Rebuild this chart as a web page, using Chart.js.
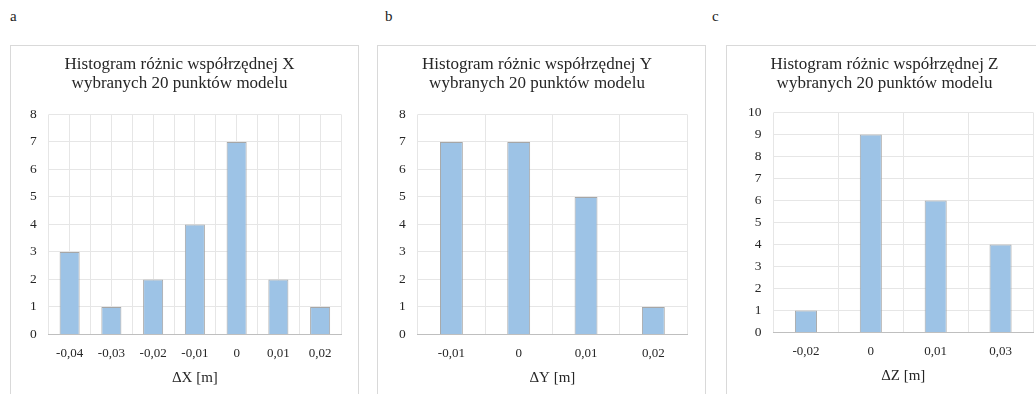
<!DOCTYPE html>
<html>
<head>
<meta charset="utf-8">
<script src="https://cdn.jsdelivr.net/npm/chart.js@4/dist/chart.umd.min.js"></script>
<style>
  body { margin: 0; background: #fff; width: 1036px; height: 394px; overflow: hidden; position: relative; font-family: "Liberation Serif", serif; }
  .lbl { position: absolute; top: 8px; font-size: 15px; color: #222; }
  .box { position: absolute; top: 45px; height: 350px; border: 1px solid #d9d9d9; box-sizing: border-box; }
  .box canvas { position: absolute; left: 0; top: 0; }
</style>
</head>
<body>
<div class="lbl" style="left:10px">a</div>
<div class="lbl" style="left:385px">b</div>
<div class="lbl" style="left:712px">c</div>
<div class="box" style="left:10px;width:349px"><canvas id="chartX" width="347" height="348"></canvas></div>
<div class="box" style="left:377px;width:329px"><canvas id="chartY" width="327" height="348"></canvas></div>
<div class="box" style="left:726px;width:330px"><canvas id="chartZ" width="328" height="348"></canvas></div>
<script>
// dane histogramów
var labelsX = ["-0,04", "-0,03", "-0,02", "-0,01", "0", "0,01", "0,02"];
var countsX = [3, 1, 2, 4, 7, 2, 1];
var labelsY = ["-0,01", "0", "0,01", "0,02"];
var countsY = [7, 7, 5, 1];
var labelsZ = ["-0,02", "0", "0,01", "0,03"];
var countsZ = [1, 9, 6, 4];
var maxX = 8, maxY = 8, maxZ = 10;

var serif = "'Liberation Serif', 'Times New Roman', serif";
var gridColor = "#e6e6e6";
var textColor = "#262626";

function makeChart(id, labels, counts, yMax, titleText, axisText, barPct, halfGrid, pad) {
    var scales = {
        x: {
            offset: true,
            grid: { color: gridColor, offset: true, drawTicks: false },
            border: { color: "#bfbfbf", width: 1 },
            ticks: { color: textColor, padding: 11, font: { family: serif, size: 13 } },
            title: { display: true, text: axisText, color: textColor, padding: { top: -3, bottom: 0 }, font: { family: serif, size: 15 } }
        },
        y: {
            min: 0,
            max: yMax,
            grid: { color: gridColor, drawTicks: false },
            border: { display: false },
            ticks: { stepSize: 1, color: textColor, padding: 12, font: { family: serif, size: 13.5 } }
        }
    };
    if (halfGrid) {
        // dodatkowe linie siatki w środku kategorii
        scales.x2 = {
            type: "category",
            position: "top",
            offset: true,
            grid: { color: gridColor, offset: false, drawTicks: false },
            border: { display: false },
            ticks: { display: false }
        };
    }
    return new Chart(document.getElementById(id), {
        type: "bar",
        data: {
            labels: labels,
            datasets: [{
                data: counts,
                backgroundColor: "#9dc3e6",
                borderColor: "#a6a6a6",
                borderWidth: 1,
                categoryPercentage: 1,
                barPercentage: barPct
            }]
        },
        options: {
            responsive: false,
            animation: false,
            layout: { padding: { left: pad.l, right: pad.r, top: 9, bottom: pad.b } },
            plugins: {
                legend: { display: false },
                tooltip: { enabled: false },
                title: {
                    display: true,
                    text: titleText,
                    color: textColor,
                    padding: { top: 0, bottom: pad.t },
                    font: { family: serif, size: 17, weight: "normal", lineHeight: 1.1 }
                }
            },
            scales: scales
        }
    });
}

makeChart("chartX", labelsX, countsX, maxX,
    ["Histogram różnic współrzędnej X", "wybranych 20 punktów modelu"], "ΔX [m]", 0.48, true,
    { l: 7, r: 17, t: 22, b: 7 });
makeChart("chartY", labelsY, countsY, maxY,
    ["Histogram różnic współrzędnej Y", "wybranych 20 punktów modelu"], "ΔY [m]", 0.34, false,
    { l: 9, r: 18, t: 22, b: 7 });
makeChart("chartZ", labelsZ, countsZ, maxZ,
    ["Histogram różnic współrzędnej Z", "wybranych 20 punktów modelu"], "ΔZ [m]", 0.34, false,
    { l: 9, r: 22, t: 20, b: 9 });
</script>
</body>
</html>
